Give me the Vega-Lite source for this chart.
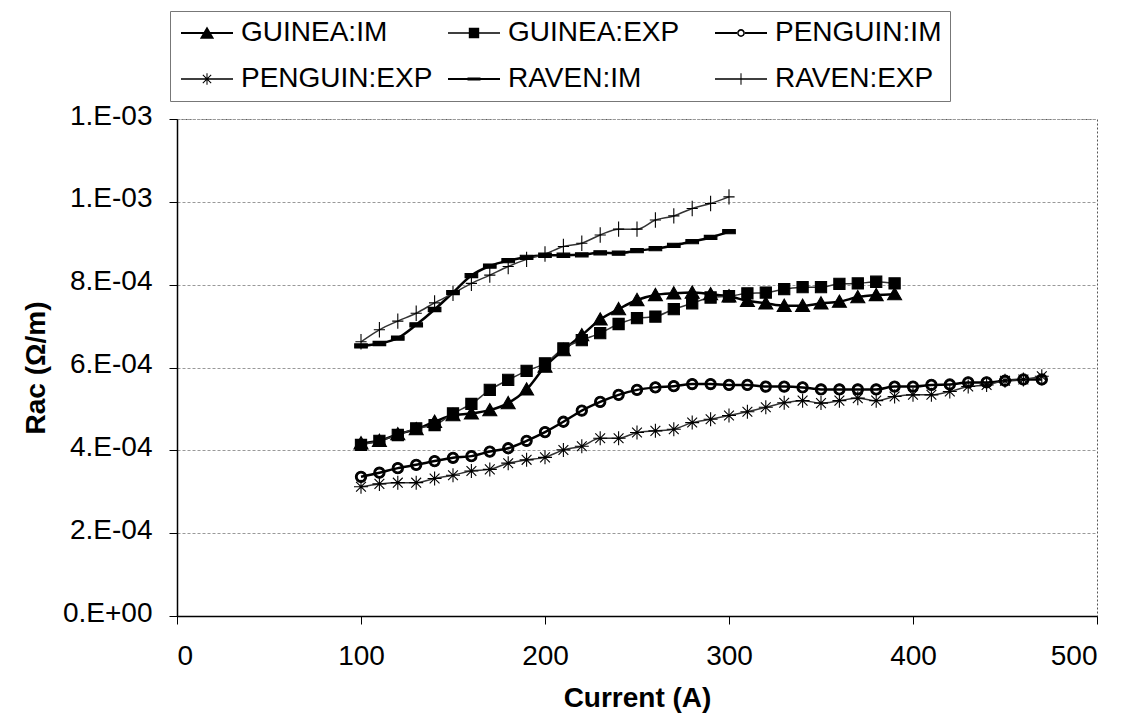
{
  "$schema": "https://vega.github.io/schema/vega-lite/v6.json",
  "width": 920,
  "height": 497,
  "autosize": {"type": "none"},
  "padding": {"left": 177, "top": 119, "right": 46, "bottom": 110},
  "background": "white",
  "config": {
    "font": "Liberation Sans",
    "view": {"stroke": "#555555", "strokeDash": [2, 2]},
    "axis": {"labelColor": "black", "titleColor": "black", "domainColor": "black", "domainWidth": 1.5, "tickColor": "black", "labelFontSize": 28, "titleFontSize": 28, "titleFontWeight": "bold", "tickSize": 8, "labelFont": "Liberation Sans", "titleFont": "Liberation Sans"}
  },
  "data": {"values": [
    {"current": 100, "rac": 0.000417, "series": "GUINEA:IM", "kind": "IM"},
    {"current": 110, "rac": 0.000423, "series": "GUINEA:IM", "kind": "IM"},
    {"current": 120, "rac": 0.000439, "series": "GUINEA:IM", "kind": "IM"},
    {"current": 130, "rac": 0.000451, "series": "GUINEA:IM", "kind": "IM"},
    {"current": 140, "rac": 0.000469, "series": "GUINEA:IM", "kind": "IM"},
    {"current": 150, "rac": 0.000485, "series": "GUINEA:IM", "kind": "IM"},
    {"current": 160, "rac": 0.000489, "series": "GUINEA:IM", "kind": "IM"},
    {"current": 170, "rac": 0.000497, "series": "GUINEA:IM", "kind": "IM"},
    {"current": 180, "rac": 0.000514, "series": "GUINEA:IM", "kind": "IM"},
    {"current": 190, "rac": 0.000547, "series": "GUINEA:IM", "kind": "IM"},
    {"current": 200, "rac": 0.000602, "series": "GUINEA:IM", "kind": "IM"},
    {"current": 210, "rac": 0.000642, "series": "GUINEA:IM", "kind": "IM"},
    {"current": 220, "rac": 0.000678, "series": "GUINEA:IM", "kind": "IM"},
    {"current": 230, "rac": 0.000716, "series": "GUINEA:IM", "kind": "IM"},
    {"current": 240, "rac": 0.000741, "series": "GUINEA:IM", "kind": "IM"},
    {"current": 250, "rac": 0.000763, "series": "GUINEA:IM", "kind": "IM"},
    {"current": 260, "rac": 0.000775, "series": "GUINEA:IM", "kind": "IM"},
    {"current": 270, "rac": 0.000779, "series": "GUINEA:IM", "kind": "IM"},
    {"current": 280, "rac": 0.000781, "series": "GUINEA:IM", "kind": "IM"},
    {"current": 290, "rac": 0.000777, "series": "GUINEA:IM", "kind": "IM"},
    {"current": 300, "rac": 0.000772, "series": "GUINEA:IM", "kind": "IM"},
    {"current": 310, "rac": 0.000761, "series": "GUINEA:IM", "kind": "IM"},
    {"current": 320, "rac": 0.000755, "series": "GUINEA:IM", "kind": "IM"},
    {"current": 330, "rac": 0.000749, "series": "GUINEA:IM", "kind": "IM"},
    {"current": 340, "rac": 0.000749, "series": "GUINEA:IM", "kind": "IM"},
    {"current": 350, "rac": 0.000755, "series": "GUINEA:IM", "kind": "IM"},
    {"current": 360, "rac": 0.000759, "series": "GUINEA:IM", "kind": "IM"},
    {"current": 370, "rac": 0.000770, "series": "GUINEA:IM", "kind": "IM"},
    {"current": 380, "rac": 0.000775, "series": "GUINEA:IM", "kind": "IM"},
    {"current": 390, "rac": 0.000777, "series": "GUINEA:IM", "kind": "IM"},
    {"current": 100, "rac": 0.000413, "series": "GUINEA:EXP", "kind": "EXP"},
    {"current": 110, "rac": 0.000423, "series": "GUINEA:EXP", "kind": "EXP"},
    {"current": 120, "rac": 0.000437, "series": "GUINEA:EXP", "kind": "EXP"},
    {"current": 130, "rac": 0.000453, "series": "GUINEA:EXP", "kind": "EXP"},
    {"current": 140, "rac": 0.000461, "series": "GUINEA:EXP", "kind": "EXP"},
    {"current": 150, "rac": 0.000489, "series": "GUINEA:EXP", "kind": "EXP"},
    {"current": 160, "rac": 0.000512, "series": "GUINEA:EXP", "kind": "EXP"},
    {"current": 170, "rac": 0.000546, "series": "GUINEA:EXP", "kind": "EXP"},
    {"current": 180, "rac": 0.000570, "series": "GUINEA:EXP", "kind": "EXP"},
    {"current": 190, "rac": 0.000592, "series": "GUINEA:EXP", "kind": "EXP"},
    {"current": 200, "rac": 0.000610, "series": "GUINEA:EXP", "kind": "EXP"},
    {"current": 210, "rac": 0.000646, "series": "GUINEA:EXP", "kind": "EXP"},
    {"current": 220, "rac": 0.000666, "series": "GUINEA:EXP", "kind": "EXP"},
    {"current": 230, "rac": 0.000683, "series": "GUINEA:EXP", "kind": "EXP"},
    {"current": 240, "rac": 0.000705, "series": "GUINEA:EXP", "kind": "EXP"},
    {"current": 250, "rac": 0.000719, "series": "GUINEA:EXP", "kind": "EXP"},
    {"current": 260, "rac": 0.000723, "series": "GUINEA:EXP", "kind": "EXP"},
    {"current": 270, "rac": 0.000741, "series": "GUINEA:EXP", "kind": "EXP"},
    {"current": 280, "rac": 0.000755, "series": "GUINEA:EXP", "kind": "EXP"},
    {"current": 290, "rac": 0.000769, "series": "GUINEA:EXP", "kind": "EXP"},
    {"current": 300, "rac": 0.000772, "series": "GUINEA:EXP", "kind": "EXP"},
    {"current": 310, "rac": 0.000779, "series": "GUINEA:EXP", "kind": "EXP"},
    {"current": 320, "rac": 0.000781, "series": "GUINEA:EXP", "kind": "EXP"},
    {"current": 330, "rac": 0.000789, "series": "GUINEA:EXP", "kind": "EXP"},
    {"current": 340, "rac": 0.000794, "series": "GUINEA:EXP", "kind": "EXP"},
    {"current": 350, "rac": 0.000794, "series": "GUINEA:EXP", "kind": "EXP"},
    {"current": 360, "rac": 0.000802, "series": "GUINEA:EXP", "kind": "EXP"},
    {"current": 370, "rac": 0.000803, "series": "GUINEA:EXP", "kind": "EXP"},
    {"current": 380, "rac": 0.000807, "series": "GUINEA:EXP", "kind": "EXP"},
    {"current": 390, "rac": 0.000803, "series": "GUINEA:EXP", "kind": "EXP"},
    {"current": 100, "rac": 0.000336, "series": "PENGUIN:IM", "kind": "IM"},
    {"current": 110, "rac": 0.000346, "series": "PENGUIN:IM", "kind": "IM"},
    {"current": 120, "rac": 0.000357, "series": "PENGUIN:IM", "kind": "IM"},
    {"current": 130, "rac": 0.000365, "series": "PENGUIN:IM", "kind": "IM"},
    {"current": 140, "rac": 0.000374, "series": "PENGUIN:IM", "kind": "IM"},
    {"current": 150, "rac": 0.000382, "series": "PENGUIN:IM", "kind": "IM"},
    {"current": 160, "rac": 0.000386, "series": "PENGUIN:IM", "kind": "IM"},
    {"current": 170, "rac": 0.000397, "series": "PENGUIN:IM", "kind": "IM"},
    {"current": 180, "rac": 0.000405, "series": "PENGUIN:IM", "kind": "IM"},
    {"current": 190, "rac": 0.000423, "series": "PENGUIN:IM", "kind": "IM"},
    {"current": 200, "rac": 0.000444, "series": "PENGUIN:IM", "kind": "IM"},
    {"current": 210, "rac": 0.000469, "series": "PENGUIN:IM", "kind": "IM"},
    {"current": 220, "rac": 0.000496, "series": "PENGUIN:IM", "kind": "IM"},
    {"current": 230, "rac": 0.000517, "series": "PENGUIN:IM", "kind": "IM"},
    {"current": 240, "rac": 0.000534, "series": "PENGUIN:IM", "kind": "IM"},
    {"current": 250, "rac": 0.000546, "series": "PENGUIN:IM", "kind": "IM"},
    {"current": 260, "rac": 0.000552, "series": "PENGUIN:IM", "kind": "IM"},
    {"current": 270, "rac": 0.000555, "series": "PENGUIN:IM", "kind": "IM"},
    {"current": 280, "rac": 0.000560, "series": "PENGUIN:IM", "kind": "IM"},
    {"current": 290, "rac": 0.000560, "series": "PENGUIN:IM", "kind": "IM"},
    {"current": 300, "rac": 0.000558, "series": "PENGUIN:IM", "kind": "IM"},
    {"current": 310, "rac": 0.000558, "series": "PENGUIN:IM", "kind": "IM"},
    {"current": 320, "rac": 0.000554, "series": "PENGUIN:IM", "kind": "IM"},
    {"current": 330, "rac": 0.000554, "series": "PENGUIN:IM", "kind": "IM"},
    {"current": 340, "rac": 0.000552, "series": "PENGUIN:IM", "kind": "IM"},
    {"current": 350, "rac": 0.000547, "series": "PENGUIN:IM", "kind": "IM"},
    {"current": 360, "rac": 0.000547, "series": "PENGUIN:IM", "kind": "IM"},
    {"current": 370, "rac": 0.000547, "series": "PENGUIN:IM", "kind": "IM"},
    {"current": 380, "rac": 0.000547, "series": "PENGUIN:IM", "kind": "IM"},
    {"current": 390, "rac": 0.000554, "series": "PENGUIN:IM", "kind": "IM"},
    {"current": 400, "rac": 0.000554, "series": "PENGUIN:IM", "kind": "IM"},
    {"current": 410, "rac": 0.000558, "series": "PENGUIN:IM", "kind": "IM"},
    {"current": 420, "rac": 0.000559, "series": "PENGUIN:IM", "kind": "IM"},
    {"current": 430, "rac": 0.000564, "series": "PENGUIN:IM", "kind": "IM"},
    {"current": 440, "rac": 0.000564, "series": "PENGUIN:IM", "kind": "IM"},
    {"current": 450, "rac": 0.000568, "series": "PENGUIN:IM", "kind": "IM"},
    {"current": 460, "rac": 0.000571, "series": "PENGUIN:IM", "kind": "IM"},
    {"current": 470, "rac": 0.000571, "series": "PENGUIN:IM", "kind": "IM"},
    {"current": 100, "rac": 0.000312, "series": "PENGUIN:EXP", "kind": "EXP"},
    {"current": 110, "rac": 0.000319, "series": "PENGUIN:EXP", "kind": "EXP"},
    {"current": 120, "rac": 0.000322, "series": "PENGUIN:EXP", "kind": "EXP"},
    {"current": 130, "rac": 0.000322, "series": "PENGUIN:EXP", "kind": "EXP"},
    {"current": 140, "rac": 0.000332, "series": "PENGUIN:EXP", "kind": "EXP"},
    {"current": 150, "rac": 0.000340, "series": "PENGUIN:EXP", "kind": "EXP"},
    {"current": 160, "rac": 0.000350, "series": "PENGUIN:EXP", "kind": "EXP"},
    {"current": 170, "rac": 0.000354, "series": "PENGUIN:EXP", "kind": "EXP"},
    {"current": 180, "rac": 0.000369, "series": "PENGUIN:EXP", "kind": "EXP"},
    {"current": 190, "rac": 0.000377, "series": "PENGUIN:EXP", "kind": "EXP"},
    {"current": 200, "rac": 0.000383, "series": "PENGUIN:EXP", "kind": "EXP"},
    {"current": 210, "rac": 0.000401, "series": "PENGUIN:EXP", "kind": "EXP"},
    {"current": 220, "rac": 0.000410, "series": "PENGUIN:EXP", "kind": "EXP"},
    {"current": 230, "rac": 0.000429, "series": "PENGUIN:EXP", "kind": "EXP"},
    {"current": 240, "rac": 0.000429, "series": "PENGUIN:EXP", "kind": "EXP"},
    {"current": 250, "rac": 0.000443, "series": "PENGUIN:EXP", "kind": "EXP"},
    {"current": 260, "rac": 0.000447, "series": "PENGUIN:EXP", "kind": "EXP"},
    {"current": 270, "rac": 0.000451, "series": "PENGUIN:EXP", "kind": "EXP"},
    {"current": 280, "rac": 0.000467, "series": "PENGUIN:EXP", "kind": "EXP"},
    {"current": 290, "rac": 0.000475, "series": "PENGUIN:EXP", "kind": "EXP"},
    {"current": 300, "rac": 0.000484, "series": "PENGUIN:EXP", "kind": "EXP"},
    {"current": 310, "rac": 0.000493, "series": "PENGUIN:EXP", "kind": "EXP"},
    {"current": 320, "rac": 0.000504, "series": "PENGUIN:EXP", "kind": "EXP"},
    {"current": 330, "rac": 0.000515, "series": "PENGUIN:EXP", "kind": "EXP"},
    {"current": 340, "rac": 0.000520, "series": "PENGUIN:EXP", "kind": "EXP"},
    {"current": 350, "rac": 0.000514, "series": "PENGUIN:EXP", "kind": "EXP"},
    {"current": 360, "rac": 0.000520, "series": "PENGUIN:EXP", "kind": "EXP"},
    {"current": 370, "rac": 0.000526, "series": "PENGUIN:EXP", "kind": "EXP"},
    {"current": 380, "rac": 0.000520, "series": "PENGUIN:EXP", "kind": "EXP"},
    {"current": 390, "rac": 0.000530, "series": "PENGUIN:EXP", "kind": "EXP"},
    {"current": 400, "rac": 0.000534, "series": "PENGUIN:EXP", "kind": "EXP"},
    {"current": 410, "rac": 0.000534, "series": "PENGUIN:EXP", "kind": "EXP"},
    {"current": 420, "rac": 0.000542, "series": "PENGUIN:EXP", "kind": "EXP"},
    {"current": 430, "rac": 0.000554, "series": "PENGUIN:EXP", "kind": "EXP"},
    {"current": 440, "rac": 0.000558, "series": "PENGUIN:EXP", "kind": "EXP"},
    {"current": 450, "rac": 0.000568, "series": "PENGUIN:EXP", "kind": "EXP"},
    {"current": 460, "rac": 0.000571, "series": "PENGUIN:EXP", "kind": "EXP"},
    {"current": 470, "rac": 0.000579, "series": "PENGUIN:EXP", "kind": "EXP"},
    {"current": 100, "rac": 0.000652, "series": "RAVEN:IM", "kind": "IM"},
    {"current": 110, "rac": 0.000658, "series": "RAVEN:IM", "kind": "IM"},
    {"current": 120, "rac": 0.000671, "series": "RAVEN:IM", "kind": "IM"},
    {"current": 130, "rac": 0.000703, "series": "RAVEN:IM", "kind": "IM"},
    {"current": 140, "rac": 0.000740, "series": "RAVEN:IM", "kind": "IM"},
    {"current": 150, "rac": 0.000781, "series": "RAVEN:IM", "kind": "IM"},
    {"current": 160, "rac": 0.000822, "series": "RAVEN:IM", "kind": "IM"},
    {"current": 170, "rac": 0.000845, "series": "RAVEN:IM", "kind": "IM"},
    {"current": 180, "rac": 0.000858, "series": "RAVEN:IM", "kind": "IM"},
    {"current": 190, "rac": 0.000866, "series": "RAVEN:IM", "kind": "IM"},
    {"current": 200, "rac": 0.000871, "series": "RAVEN:IM", "kind": "IM"},
    {"current": 210, "rac": 0.000871, "series": "RAVEN:IM", "kind": "IM"},
    {"current": 220, "rac": 0.000872, "series": "RAVEN:IM", "kind": "IM"},
    {"current": 230, "rac": 0.000877, "series": "RAVEN:IM", "kind": "IM"},
    {"current": 240, "rac": 0.000876, "series": "RAVEN:IM", "kind": "IM"},
    {"current": 250, "rac": 0.000882, "series": "RAVEN:IM", "kind": "IM"},
    {"current": 260, "rac": 0.000887, "series": "RAVEN:IM", "kind": "IM"},
    {"current": 270, "rac": 0.000895, "series": "RAVEN:IM", "kind": "IM"},
    {"current": 280, "rac": 0.000904, "series": "RAVEN:IM", "kind": "IM"},
    {"current": 290, "rac": 0.000914, "series": "RAVEN:IM", "kind": "IM"},
    {"current": 300, "rac": 0.000928, "series": "RAVEN:IM", "kind": "IM"},
    {"current": 100, "rac": 0.000662, "series": "RAVEN:EXP", "kind": "EXP"},
    {"current": 110, "rac": 0.000691, "series": "RAVEN:EXP", "kind": "EXP"},
    {"current": 120, "rac": 0.000712, "series": "RAVEN:EXP", "kind": "EXP"},
    {"current": 130, "rac": 0.000731, "series": "RAVEN:EXP", "kind": "EXP"},
    {"current": 140, "rac": 0.000756, "series": "RAVEN:EXP", "kind": "EXP"},
    {"current": 150, "rac": 0.000779, "series": "RAVEN:EXP", "kind": "EXP"},
    {"current": 160, "rac": 0.000803, "series": "RAVEN:EXP", "kind": "EXP"},
    {"current": 170, "rac": 0.000823, "series": "RAVEN:EXP", "kind": "EXP"},
    {"current": 180, "rac": 0.000844, "series": "RAVEN:EXP", "kind": "EXP"},
    {"current": 190, "rac": 0.000861, "series": "RAVEN:EXP", "kind": "EXP"},
    {"current": 200, "rac": 0.000874, "series": "RAVEN:EXP", "kind": "EXP"},
    {"current": 210, "rac": 0.000892, "series": "RAVEN:EXP", "kind": "EXP"},
    {"current": 220, "rac": 0.000900, "series": "RAVEN:EXP", "kind": "EXP"},
    {"current": 230, "rac": 0.000920, "series": "RAVEN:EXP", "kind": "EXP"},
    {"current": 240, "rac": 0.000934, "series": "RAVEN:EXP", "kind": "EXP"},
    {"current": 250, "rac": 0.000934, "series": "RAVEN:EXP", "kind": "EXP"},
    {"current": 260, "rac": 0.000956, "series": "RAVEN:EXP", "kind": "EXP"},
    {"current": 270, "rac": 0.000966, "series": "RAVEN:EXP", "kind": "EXP"},
    {"current": 280, "rac": 0.000984, "series": "RAVEN:EXP", "kind": "EXP"},
    {"current": 290, "rac": 0.000996, "series": "RAVEN:EXP", "kind": "EXP"},
    {"current": 300, "rac": 0.001012, "series": "RAVEN:EXP", "kind": "EXP"}
  ]},
  "encoding": {
    "x": {"field": "current", "type": "quantitative", "scale": {"domain": [0, 500], "nice": false},
      "axis": {"values": [0, 100, 200, 300, 400, 500], "grid": false, "title": "Current (A)", "labelPadding": 18, "titlePadding": 14}},
    "y": {"field": "rac", "type": "quantitative", "scale": {"domain": [0, 0.0012], "nice": false},
      "axis": {"values": [0, 0.0002, 0.0004, 0.0006, 0.0008, 0.001, 0.0012], "grid": true, "gridColor": "#999999", "gridDash": [3, 2], "title": "Rac (Ω/m)", "labelPadding": 17, "titlePadding": 12, "labelOffset": -3,
        "labelExpr": "datum.value < 1e-10 ? '0.E+00' : datum.value < 0.0003 ? '2.E-04' : datum.value < 0.0005 ? '4.E-04' : datum.value < 0.0007 ? '6.E-04' : datum.value < 0.0009 ? '8.E-04' : '1.E-03'"}}
  },
  "layer": [
    {
      "mark": {"type": "line", "interpolate": "monotone"},
      "encoding": {
        "detail": {"field": "series", "type": "nominal"},
        "stroke": {"field": "kind", "type": "nominal", "scale": {"domain": ["IM", "EXP"], "range": ["#000000", "#333333"]}, "legend": null},
        "strokeWidth": {"field": "kind", "type": "ordinal", "scale": {"domain": ["IM", "EXP"], "range": [2.5, 1.5]}, "legend": null}
      }
    },
    {
      "mark": {"type": "point", "filled": true, "fill": "black", "stroke": "black", "strokeWidth": 1.1, "size": 196, "opacity": 1},
      "encoding": {
        "shape": {"field": "series", "type": "nominal", "legend": null,
          "scale": {"domain": ["GUINEA:IM", "GUINEA:EXP", "PENGUIN:IM", "PENGUIN:EXP", "RAVEN:IM", "RAVEN:EXP"],
            "range": [
              "M0,-0.95L1,0.8L-1,0.8Z",
              "M-0.8,-0.8H0.8V0.8H-0.8Z",
              "M-0.8,0A0.8,0.8,0,1,0,0.8,0A0.8,0.8,0,1,0,-0.8,0ZM-0.55,0A0.55,0.55,0,1,1,0.55,0A0.55,0.55,0,1,1,-0.55,0Z",
              "M-1,0H1M0,-1V1M-0.7,-0.7L0.7,0.7M-0.7,0.7L0.7,-0.7",
              "M-0.9,-0.3H0.9V0.3H-0.9Z",
              "M-0.8,0H0.8M0,-1.1V1.1"
            ]}}
      }
    },
    {
      "transform": [{"filter": "datum.current < 0"}],
      "mark": {"type": "point", "filled": true, "fill": "black", "stroke": "black", "strokeWidth": 1.5, "opacity": 1},
      "encoding": {
        "shape": {"field": "series", "type": "nominal",
          "scale": {"domain": ["GUINEA:IM", "GUINEA:EXP", "PENGUIN:IM", "PENGUIN:EXP", "RAVEN:IM", "RAVEN:EXP"],
            "range": [
              "M-2,-0.085H2V0.085H-2ZM0,-0.5L0.55,0.45L-0.55,0.45Z",
              "M-2,-0.05H2V0.05H-2ZM-0.4,-0.4H0.4V0.4H-0.4Z",
              "M-2,-0.085H-0.31V0.085H-2ZM0.31,-0.085H2V0.085H0.31ZM-0.3,0A0.3,0.3,0,1,0,0.3,0A0.3,0.3,0,1,0,-0.3,0ZM-0.18,0A0.18,0.18,0,1,1,0.18,0A0.18,0.18,0,1,1,-0.18,0Z",
              "M-2,-0.05H2V0.05H-2ZM-0.04,-0.45H0.04V0.45H-0.04ZM-0.292,-0.348L0.348,0.292L0.292,0.348L-0.348,-0.292ZM-0.292,0.348L-0.348,0.292L0.292,-0.348L0.348,-0.292Z",
              "M-2,-0.085H2V0.085H-2ZM-0.5,-0.12H0.5V0.12H-0.5Z",
              "M-2,-0.05H2V0.05H-2ZM-0.04,-0.45H0.04V0.45H-0.04Z"
            ]},
          "legend": {"orient": "none", "legendX": -7, "legendY": -108, "columns": 3, "direction": "horizontal", "title": null,
            "symbolSize": 676, "symbolOffset": 15, "labelOffset": 20, "symbolStrokeColor": "black", "symbolFillColor": "black",
            "symbolStrokeWidth": 1.5, "symbolOpacity": 1, "labelFontSize": 28, "labelFont": "Liberation Sans", "labelColor": "black",
            "rowPadding": 18, "columnPadding": 12, "gridAlign": "all", "padding": 8, "strokeColor": "#777777", "labelLimit": 400}}
      }
    }
  ],
  "resolve": {"scale": {"shape": "independent"}}
}
